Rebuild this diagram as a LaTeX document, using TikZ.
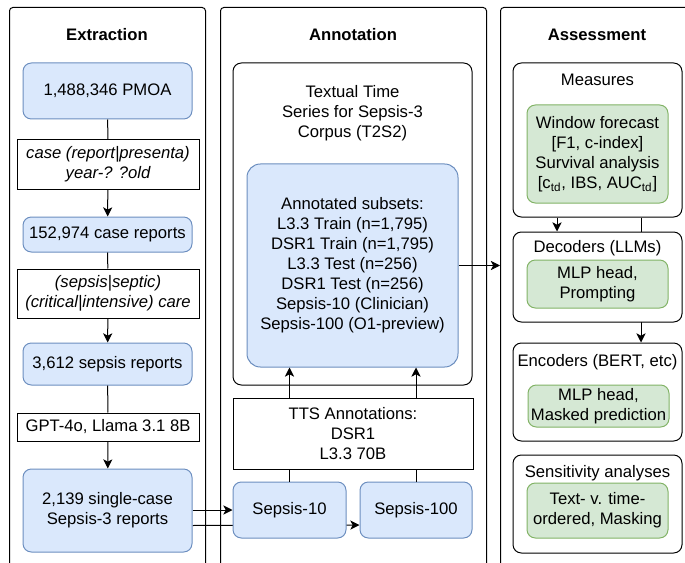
\documentclass[tikz,border=0pt]{standalone}
\usepackage{fontspec}
\setmainfont{Liberation Sans}
\usetikzlibrary{positioning}
\usetikzlibrary{arrows.meta}
\usetikzlibrary{backgrounds}
\definecolor{blfill}{HTML}{DAE8FC}
\definecolor{bldraw}{HTML}{6C8EBF}
\definecolor{grfill}{HTML}{D5E8D4}
\definecolor{grdraw}{HTML}{82B366}

\tikzset{
  sz/.style 2 args={minimum width=#1*0.6pt, minimum height=#2*0.6pt},
  panel/.style={draw, rounded corners=2pt, line width=0.6pt, inner sep=0pt},
  group/.style={draw, fill=white, rounded corners=5pt, line width=0.6pt, inner sep=0pt},
  bluebox/.style={draw=bldraw, fill=blfill, rounded corners=5pt, line width=0.6pt, align=center, inner sep=0pt},
  greenbox/.style={draw=grdraw, fill=grfill, rounded corners=5pt, line width=0.6pt, align=center, inner sep=0pt},
  rulebox/.style={draw, fill=white, line width=0.6pt, align=center, inner sep=0pt},
  line/.style={line width=0.6pt},
  arr/.style={line width=0.6pt, -{Stealth[length=5.5pt,width=5.5pt,inset=1.4pt]}}
}

\begin{document}
\begin{tikzpicture}[x=0.6pt, y=-0.6pt]
    \useasboundingbox (0,0) rectangle (685,563);
    \clip (0,0) rectangle (685,563);

    % draw panels
    \node[panel, sz={196}{580}, anchor=north west] (extract) at (9,7) {};
    \node[panel, sz={266}{580}, anchor=north west] (annot) at (220,7) {};
    \node[panel, sz={200}{580}, anchor=north west] (assess) at (500,7) {};
    \node[font=\bfseries] (extracttitle) at (107,35) {Extraction};
    \node[font=\bfseries] (annottitle) at (353,35) {Annotation};
    \node[font=\bfseries] (assesstitle) at (597,35) {Assessment};

    % extraction column
    \node[bluebox, sz={169}{56}] (pmoa) at (107.5,91) {1,488,346 PMOA};
    \node[rulebox, sz={182}{49}, font=\itshape] (re1) at (108,164.5) {case (report|presenta)\\year-? ?old};
    \node[bluebox, sz={169}{35}] (cases) at (107.5,234.5) {152,974 case reports};
    \node[rulebox, sz={182}{49}, font=\itshape] (re2) at (108,293.5) {(sepsis|septic)\\(critical|intensive) care};
    \node[bluebox, sz={169}{42}] (sepsis) at (107.5,364) {3,612 sepsis reports};
    \node[rulebox, sz={182}{28}] (gpt) at (108,427) {GPT-4o, Llama 3.1 8B};
    \node[bluebox, sz={169}{83}] (single) at (107.5,510.5) {2,139 single-case\\Sepsis-3 reports};

    % annotation column
    \node[group, sz={239}{322}] (t2s2) at (352.5,224) {};
    \node[align=center] (t2s2title) at (352.5,113) {Textual Time\\Series for Sepsis-3\\Corpus (T2S2)};
    \node[bluebox, sz={211}{203}, rounded corners=8pt] (subsets) at (352.5,265.5) {Annotated subsets:\\L3.3 Train (n=1,795)\\DSR1 Train (n=1,795)\\L3.3 Test (n=256)\\DSR1 Test (n=256)\\Sepsis-10 (Clinician)\\Sepsis-100 (O1-preview)};
    \node[rulebox, sz={240}{71}] (tts) at (353,433.5) {TTS Annotations:\\DSR1\\L3.3 70B};
    \node[bluebox, sz={113}{56}] (sep10) at (289.5,510) {Sepsis-10};
    \node[bluebox, sz={112}{56}] (sep100) at (416,510) {Sepsis-100};

    % assessment column
    \node[group, sz={169}{154}] (meas) at (597.5,140) {};
    \node (meastitle) at (597.5,80) {Measures};
    \node[greenbox, sz={141}{98}] (measfill) at (597.5,154) {Window forecast\\{}[F1, c-index]\\Survival analysis\\{}[c\textsubscript{td}, IBS, AUC\textsubscript{td}]};
    \node[group, sz={169}{90}] (dec) at (597.5,277) {};
    \node (dectitle) at (597.5,248) {Decoders (LLMs)};
    \node[greenbox, sz={141}{48}] (decfill) at (597.5,284) {MLP head,\\Prompting};
    \node[group, sz={169}{98}] (enc) at (597.5,392) {};
    \node (enctitle) at (597.5,362) {Encoders (BERT, etc)};
    \node[greenbox, sz={141}{42}] (encfill) at (598.5,406) {MLP head,\\Masked prediction};
    \node[group, sz={169}{98}] (sens) at (597.5,504) {};
    \node (senstitle) at (597.5,473) {Sensitivity analyses};
    \node[greenbox, sz={141}{55}] (sensfill) at (597.5,510.5) {Text- v. time-\\ordered, Masking};

    % draw connectors
    \draw[line] (pmoa) -- (re1);
    \draw[arr] (re1) -- (cases);
    \draw[line] (cases) -- (re2);
    \draw[arr] (re2) -- (sepsis);
    \draw[line] (sepsis) -- (gpt);
    \draw[arr] (gpt) -- (single);
    \draw[arr] (single.east |- sep10.west) -- (sep10.west);
    \draw[line] (sep10) -- (tts.south -| sep10);
    \draw[line] (sep100) -- (tts.south -| sep100);
    \draw[arr] (tts.north -| sep10) -- (subsets.south -| sep10);
    \draw[arr] (tts.north -| sep100) -- (subsets.south -| sep100);
    \draw[arr] (subsets.east) -- (subsets.east -| assess.west);
    \draw[arr] ([xshift=-24.3pt]meas.south) -- ([xshift=-24.3pt]dec.north);

    % connectors that pass behind boxes
    \begin{pgfonlayer}{background}
      \draw[arr] ([yshift=-9pt]single.east) -- ([yshift=-9pt]sep100.west);
      \draw[arr] ([xshift=26.1pt]meas.south) -- ([xshift=26.1pt]enc.north);
    \end{pgfonlayer}
\end{tikzpicture}
\end{document}
